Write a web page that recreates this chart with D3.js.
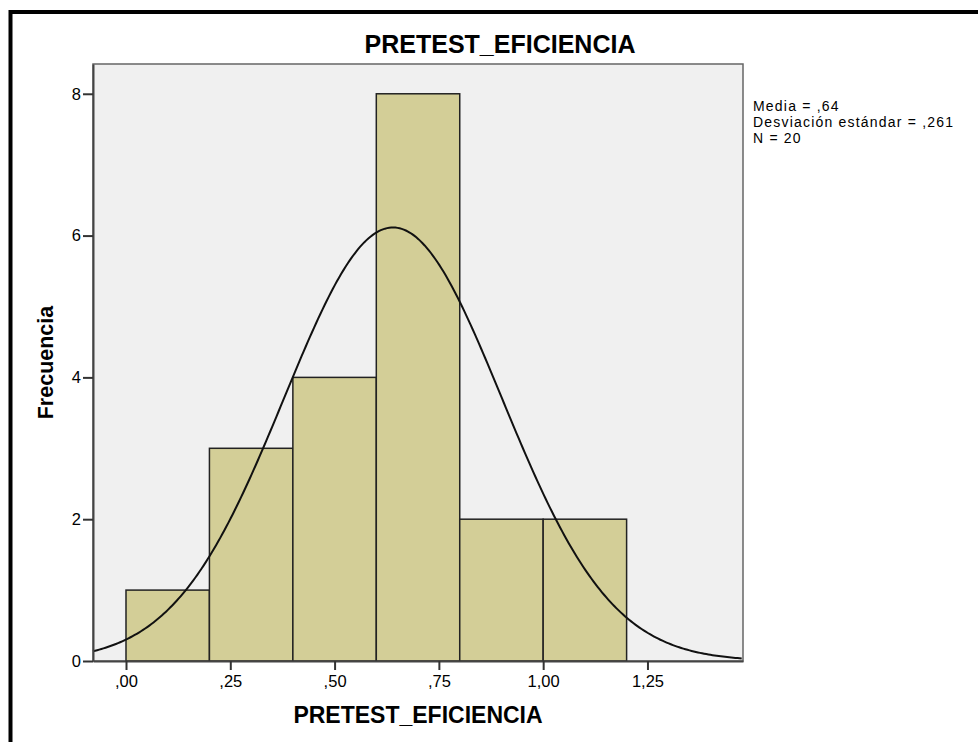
<!DOCTYPE html>
<html>
<head>
<meta charset="utf-8">
<script src="https://cdn.jsdelivr.net/npm/d3@7"></script>
<style>
  body { margin: 0; background: #fff; }
  text { font-family: "Liberation Sans", Arial, sans-serif; fill: #000; }
</style>
</head>
<body>
<div id="svg-container"></div>
<script>
var w = 978;
var h = 742;

// histogram data
var binStart = [0.0, 0.2, 0.4, 0.6, 0.8, 1.0];
var binEnd = [0.2, 0.4, 0.6, 0.8, 1.0, 1.2];
var counts = [1, 3, 4, 8, 2, 2];

var xTicks = [0, 0.25, 0.5, 0.75, 1.0, 1.25];
var xTickLabels = [",00", ",25", ",50", ",75", "1,00", "1,25"];
var yTicks = [0, 2, 4, 6, 8];

// stats from the legend
var mean = 0.64;
var sd = 0.261;
var n = 20;
var statsLines = ["Media = ,64", "Desviación estándar = ,261", "N = 20"];

var plot = { left: 93, top: 64, right: 743, bottom: 661 };

var svg = d3.select("#svg-container")
    .append("svg")
    .attr("width", w)
    .attr("height", h);

// outer frame (only top/left visible, rest runs off the picture)
svg.append("rect")
    .attr("x", 10.5)
    .attr("y", 12)
    .attr("width", w + 20)
    .attr("height", h + 20)
    .attr("fill", "none")
    .attr("stroke", "#000")
    .attr("stroke-width", 4);

var xScale = d3.scaleLinear()
    .domain([-0.0791, 1.479])
    .range([plot.left, plot.right]);

var yScale = d3.scaleLinear()
    .domain([0, 8.42])
    .range([plot.bottom, plot.top]);

// plot background
svg.append("rect")
    .attr("x", plot.left)
    .attr("y", plot.top)
    .attr("width", plot.right - plot.left)
    .attr("height", plot.bottom - plot.top)
    .attr("fill", "#f0f0f0")
    .attr("stroke", "#666")
    .attr("stroke-width", 1.5);

// bars
svg.append("g")
    .attr("class", "bars")
    .selectAll("rect")
    .data(counts)
    .enter()
    .append("rect")
    .attr("x", function(d, i) { return xScale(binStart[i]); })
    .attr("y", function(d) { return yScale(d); })
    .attr("width", function(d, i) { return xScale(binEnd[i]) - xScale(binStart[i]); })
    .attr("height", function(d) { return yScale(0) - yScale(d); })
    .attr("fill", "#d3ce97")
    .attr("stroke", "#222")
    .attr("stroke-width", 1.5);

// normal curve from the legend's mean / sd / N
var binWidth = binEnd[0] - binStart[0];
var normal = function(x) {
    var z = (x - mean) / sd;
    return n * binWidth * Math.exp(-0.5 * z * z) / (sd * Math.sqrt(2 * Math.PI));
};
var curvePts = d3.range(xScale.domain()[0], xScale.domain()[1] + 0.001, 0.005);

svg.append("path")
    .datum(curvePts)
    .attr("fill", "none")
    .attr("stroke", "#111")
    .attr("stroke-width", 2)
    .attr("d", d3.line()
        .x(function(d) { return xScale(d); })
        .y(function(d) { return yScale(normal(d)); }));

// axes
var xAxisGen = d3.axisBottom(xScale)
    .tickValues(xTicks)
    .tickSize(9)
    .tickSizeOuter(0)
    .tickPadding(5)
    .tickFormat(function(d, i) { return xTickLabels[i]; });

var xAxis = svg.append("g")
    .attr("transform", "translate(0," + plot.bottom + ")")
    .call(xAxisGen);

var yAxisGen = d3.axisLeft(yScale)
    .tickValues(yTicks)
    .tickSize(10)
    .tickSizeOuter(0)
    .tickPadding(2)
    .tickFormat(d3.format("d"));

var yAxis = svg.append("g")
    .attr("transform", "translate(" + plot.left + ",0)")
    .call(yAxisGen);

[xAxis, yAxis].forEach(function(a) {
    a.select(".domain").attr("stroke", "#444").attr("stroke-width", 2);
    a.selectAll(".tick line").attr("stroke", "#333").attr("stroke-width", 2);
    a.selectAll(".tick text")
        .style("font-family", "'Liberation Sans', Arial, sans-serif")
        .style("font-size", "16.5px")
        .attr("fill", "#222");
});

// titles
svg.append("text")
    .attr("x", 500)
    .attr("y", 53)
    .attr("text-anchor", "middle")
    .style("font-size", "25px")
    .style("font-weight", "bold")
    .text("PRETEST_EFICIENCIA");

svg.append("text")
    .attr("x", (plot.left + plot.right) / 2)
    .attr("y", 723)
    .attr("text-anchor", "middle")
    .style("font-size", "23px")
    .style("font-weight", "bold")
    .text("PRETEST_EFICIENCIA");

svg.append("text")
    .attr("transform", "translate(53," + ((plot.top + plot.bottom) / 2) + ") rotate(-90)")
    .attr("text-anchor", "middle")
    .style("font-size", "21.5px")
    .style("font-weight", "bold")
    .text("Frecuencia");

// stats box
svg.append("g")
    .selectAll("text")
    .data(statsLines)
    .enter()
    .append("text")
    .attr("x", 753)
    .attr("y", function(d, i) { return 111 + i * 16; })
    .style("font-size", "14px")
    .style("letter-spacing", "1.2px")
    .text(function(d) { return d; });
</script>
</body>
</html>
